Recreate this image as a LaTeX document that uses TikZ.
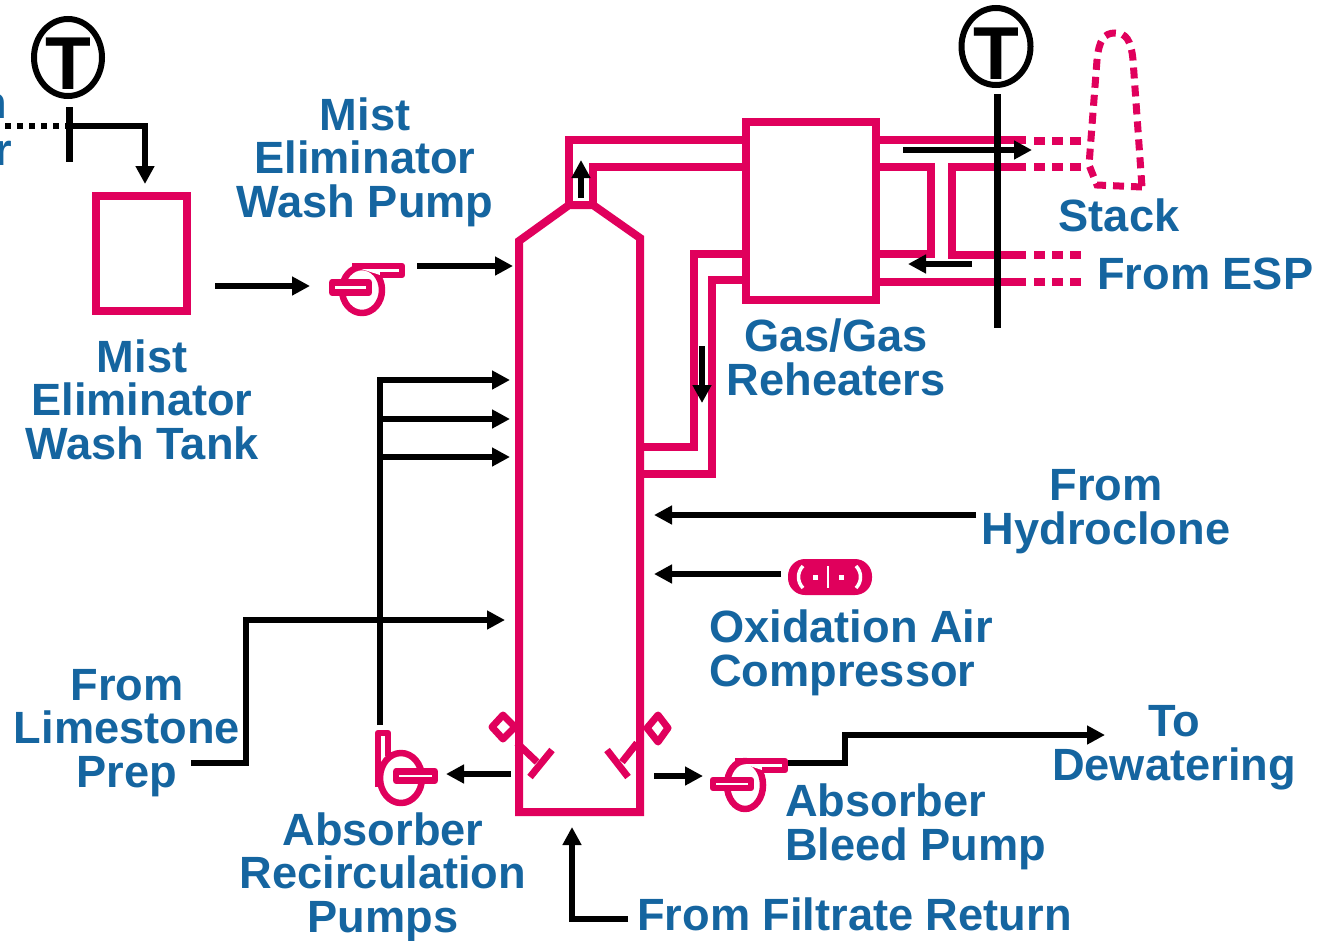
\documentclass[tikz,border=0pt]{standalone}
\usepackage{fontspec}
\setmainfont{Liberation Sans}
\usetikzlibrary{arrows.meta,shapes.geometric}
\definecolor{duct}{HTML}{E0005C}
\definecolor{lbl}{HTML}{1565A0}
\tikzset{
  lab/.style={inner sep=0pt,text=lbl,font=\fontsize{45.2}{43.5}\selectfont\bfseries,align=center,anchor=base},
  labl/.style={lab,align=left,anchor=base west},
  flow/.style={line width=6pt,black,-{Triangle[width=18pt,length=18pt]}},
  plain/.style={line width=6pt,black},
  pipe/.style={line width=8pt,duct,line join=miter},
  dpipe/.style={line width=8pt,duct,dash pattern=on 11pt off 7pt},
  unit/.style={draw=duct,line width=8pt,fill=white,inner sep=0pt},
  tcirc/.style={draw=black,ellipse,line width=6pt,inner sep=0pt},
  tmark/.style={inner sep=0pt,font=\fontsize{75}{75}\selectfont\bfseries},
  tline/.style={line width=7pt,black},
  pump/.style={draw=duct,line width=6.5pt,fill=white,line join=round},
  agit/.style={draw=duct,line width=7pt,line join=round},
}
\begin{document}
\begin{tikzpicture}[x=1pt,y=-1pt]
\useasboundingbox (0,0) rectangle (1324,940);
\clip (0,0) rectangle (1324,940);
\fill[white] (0,0) rectangle (1324,940);

% ---- named points
\coordinate (absBL) at (519,812); \coordinate (absTLs) at (519,241);
\coordinate (absT1) at (569,205); \coordinate (absT2) at (593,205);
\coordinate (absTRs) at (640,238); \coordinate (absBR) at (640,812);

% ---- ducts
\draw[pipe] (742,140) -- (569,140) -- (absT1);
\draw[pipe] (742,167) -- (593,167) -- (absT2);
\draw[pipe] (742,254) -- (694,254) -- (694,447) -- (640,447);
\draw[pipe] (742,280) -- (712,280) -- (712,474) -- (640,474);
\draw[pipe] (879,140) -- (1026,140);
\draw[pipe] (879,167) -- (931,167) -- (931,254) -- (879,254);
\draw[pipe] (1026,167) -- (952,167) -- (952,255) -- (1026,255);
\draw[pipe] (879,282) -- (1026,282);
\foreach \yy in {141,167,255,282}{\draw[dpipe] (1034,\yy) -- (1088,\yy);}

% ---- stack
\draw[dpipe,line width=7pt] (1142,187) -- (1097,185) -- (1089,165) -- (1097,60)
   .. controls (1099,40) and (1104,33) .. (1115,33)
   .. controls (1126,33) and (1131,40) .. (1133,60) -- (1142,187);

% ---- absorber
\draw[pipe,fill=white] (absBL) -- (absTLs) -- (absT1) -- (absT2) -- (absTRs) -- (absBR) -- cycle;

% ---- agitators
\draw[agit,fill=white] (503,715) -- (515,727) -- (503,739) -- (492,727) -- cycle;
\draw[agit,fill=white] (658,715) -- (668,728) -- (658,742) -- (647,728) -- cycle;
\draw[agit] (517,743) -- (537,762);
\draw[agit] (552,750) -- (530,777);
\draw[agit] (637,743) -- (622,762);
\draw[agit] (607,750) -- (628,777);

% ---- units
\node[unit,minimum width=130pt,minimum height=178pt] (rh) at (810.5,210.5) {};
\node[unit,minimum width=91pt,minimum height=115pt] (tank) at (141.5,253.5) {};

% ---- pumps
\coordinate (pumpW) at (362,290);
\coordinate (pumpB) at (745,785);
\coordinate (pumpR) at (401,778);
\draw[pump] (pumpW) ellipse [x radius=20,y radius=23];
\draw[pump] (352,266) -- (402,266) -- (402,275) -- (380,275);
\draw[pump] (332,282.5) rectangle (369,292.5);
\draw[pump] (pumpB) ellipse [x radius=18,y radius=24];
\draw[pump] (735,761) -- (785,761) -- (785,770) -- (762,770);
\draw[pump] (713,780) rectangle (751,788);
\draw[pump] (pumpR) ellipse [x radius=21,y radius=25];
\draw[pump,fill=none] (378,787) -- (378,733) -- (388,733) -- (388,756);
\draw[pump] (396,771.5) rectangle (435,780.5);

% ---- compressor
\node[fill=duct,rounded corners=17pt,minimum width=84pt,minimum height=36pt,inner sep=0pt] (comp) at (830,577) {};
\draw[white,line width=3.5pt] (803,566) .. controls (797,572) and (797,582) .. (803,588);
\draw[white,line width=3.5pt] (856,566) .. controls (862,572) and (862,582) .. (856,588);
\draw[white,line width=2.5pt] (828,566) -- (828,588);
\fill[white] (812.5,574.5) rectangle (817.5,579.5);
\fill[white] (838.5,574.5) rectangle (843.5,579.5);

% ---- T sensors
\node[tcirc,minimum width=68pt,minimum height=77pt] (t1) at (68,57.5) {};
\node[tmark] (t1t) at (68.5,64) {T};
\node[tcirc,minimum width=69pt,minimum height=77pt] (t2) at (996,46.5) {};
\node[tmark] (t2t) at (996.5,53.5) {T};
\coordinate (t1a) at (69,107); \coordinate (t1b) at (69,162);
\coordinate (t2a) at (997,94); \coordinate (t2b) at (997,328);

% ---- black lines
\coordinate (dotS) at (5,126); \coordinate (dotE) at (69,126);
\draw[line width=6pt,dash pattern=on 6pt off 6pt] (dotS) -- (dotE);
\draw[flow] (dotE) -- (145,126) -- (145,184);
\draw[tline] (t1a) -- (t1b);
\draw[tline] (t2a) -- (t2b);
\coordinate (tankOut) at (215,286); \coordinate (pumpWin) at (310,286);
\draw[flow] (tankOut) -- (pumpWin);
\draw[flow] (417,266) -- (513,266);
\draw[flow] (903,150) -- (1032,150);
\draw[flow] (972,264) -- (908,264);
\draw[flow] (581,198) -- (581,160);
\draw[flow] (702,346) -- (702,403);
\coordinate (trunk1) at (380,380); \coordinate (trunk2) at (380,419); \coordinate (trunk3) at (380,457);
\draw[flow] (380,725) -- (trunk1) -- (510,380);
\draw[flow] (trunk2) -- (510,419);
\draw[flow] (trunk3) -- (510,457);
\draw[flow] (191,763) -- (246,763) -- (246,620) -- (505,620);
\draw[flow] (976,515) -- (654,515);
\coordinate (compOut) at (781,574); \coordinate (absIn) at (654,574);
\draw[flow] (compOut) -- (absIn);
\draw[flow] (511,774) -- (446,774);
\draw[flow] (654,776) -- (703,776);
\draw[flow] (788,763) -- (845,763) -- (845,735) -- (1105,735);
\draw[flow] (628,919) -- (572,919) -- (572,827);

% ---- labels
\node[lab] (l1) at (365,217) {Mist\\Eliminator\\Wash Pump};
\node[lab] (l2) at (142,459) {Mist\\Eliminator\\Wash Tank};
\node[lab] (l3) at (836,395) {Gas/Gas\\Reheaters};
\node[lab] (l4) at (1119,231) {Stack};
\node[labl] (l5) at (1097,289) {From ESP};
\node[lab] (l6) at (1106,544) {From\\Hydroclone};
\node[labl] (l7) at (709,686) {Oxidation Air\\Compressor};
\node[lab] (l8) at (127,787) {From\\Limestone\\Prep};
\node[lab] (l9) at (383,932) {Absorber\\Recirculation\\Pumps};
\node[labl] (l10) at (785,860) {Absorber\\Bleed Pump};
\node[lab] (l11) at (1174,780) {To\\Dewatering};
\node[labl] (l12) at (637,930) {From Filtrate Return};
\node[lab,anchor=base east] (l13) at (7,118) {n};
\node[lab,anchor=base east] (l14) at (12,165) {r};
\end{tikzpicture}
\end{document}
